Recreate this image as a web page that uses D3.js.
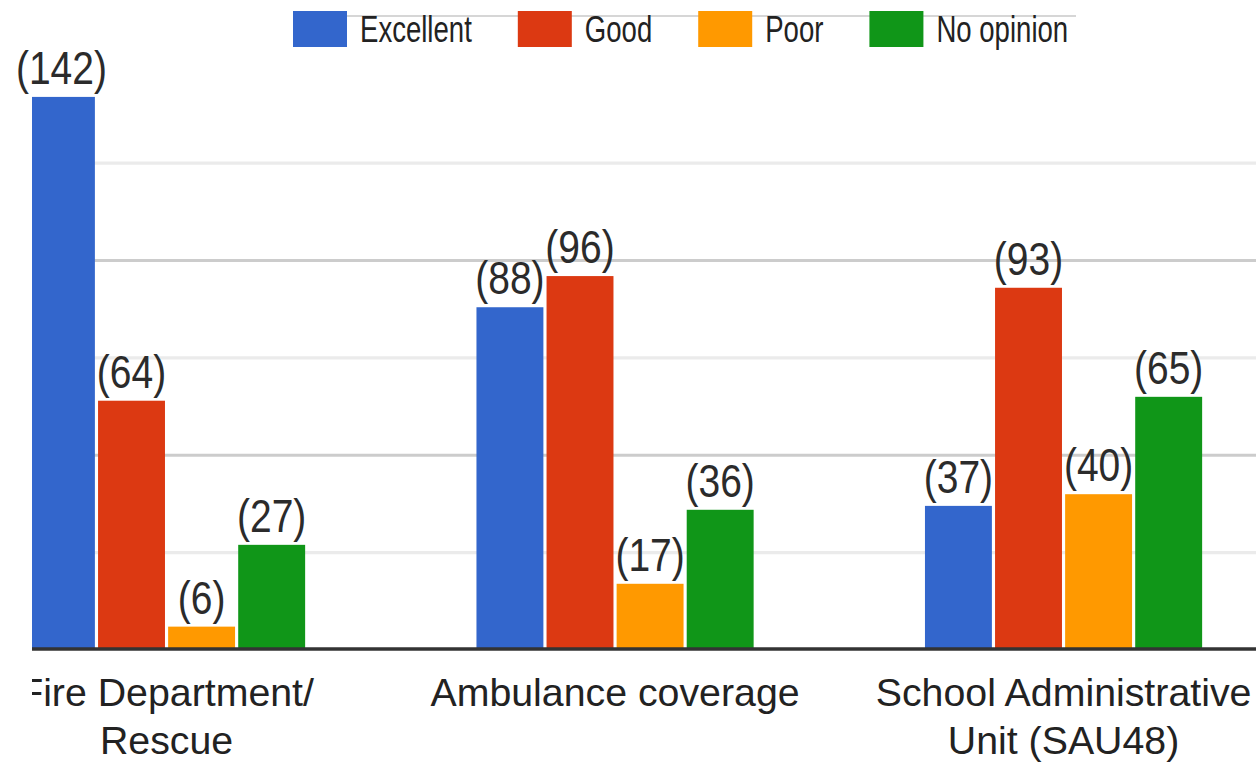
<!DOCTYPE html>
<html>
<head>
<meta charset="utf-8">
<script src="https://cdn.jsdelivr.net/npm/d3@7"></script>
<style>
  html, body { margin: 0; padding: 0; background: #fff; }
  svg { display: block; }
</style>
</head>
<body>
<svg id="chart" width="1256" height="766"></svg>
<script>
// ---- data ----
const categories = [["Fire Department/", "Rescue"], ["Ambulance coverage"], ["School Administrative", "Unit (SAU48)"]];
const series = ["Excellent", "Good", "Poor", "No opinion"];
const excellent = [142, 88, 37];
const good = [64, 96, 93];
const poor = [6, 17, 40];
const noOpinion = [27, 36, 65];
const gridTicks = [25, 50, 75, 100, 125];
const majorTicks = [50, 100];
const colors = ["#3366cc", "#dc3912", "#ff9900", "#109618"];

const values = [excellent, good, poor, noOpinion];
const catKeys = categories.map((c, i) => "c" + i);

const svg = d3.select("#chart");
const W = 1256, H = 766;
const plotLeft = 32, plotRight = 1256;

const x0 = d3.scaleBand().domain(catKeys).range([-57.7, 1287.8]).paddingInner(0.382).paddingOuter(0.191);
const x1 = d3.scaleBand().domain(series).range([0, x0.bandwidth()]).paddingInner(0.045);
const y = d3.scaleLinear().domain([0, 150]).range([650, 65.75]);

const defs = svg.append("defs");
defs.append("clipPath").attr("id", "plotclip")
  .append("rect").attr("x", plotLeft).attr("y", 0).attr("width", plotRight - plotLeft).attr("height", H);

// gridlines
const grid = svg.append("g").attr("clip-path", "url(#plotclip)");
grid.selectAll("line.grid").data(gridTicks).join("line")
  .attr("x1", plotLeft).attr("x2", plotRight)
  .attr("y1", d => y(d)).attr("y2", d => y(d))
  .attr("stroke", d => majorTicks.includes(d) ? "#cccccc" : "#ebebeb")
  .attr("stroke-width", 3.2);

// legend gray line behind legend
svg.append("line").attr("x1", 347).attr("x2", 1076).attr("y1", 16).attr("y2", 16)
  .attr("stroke", "#d6d6d6").attr("stroke-width", 2);

// bars
const barLayer = svg.append("g").attr("clip-path", "url(#plotclip)");
const labelLayer = svg.append("g");

catKeys.forEach((ck, ci) => {
  const gx = x0(ck);
  const rows = series.map((s, si) => ({ s, si, v: values[si][ci] }));
  barLayer.append("g").attr("transform", `translate(${gx},0)`)
    .selectAll("rect").data(rows).join("rect")
    .attr("x", d => x1(d.s)).attr("width", x1.bandwidth())
    .attr("y", d => y(d.v)).attr("height", d => y(0) - y(d.v))
    .attr("fill", d => colors[d.si]);
  labelLayer.append("g").attr("transform", `translate(${gx},0)`)
    .selectAll("g.lbl").data(rows).join("g")
    .attr("transform", d => `translate(${x1(d.s) + x1.bandwidth() / 2},${y(d.v) - 13}) scale(1,1.18)`)
    .append("text")
    .attr("text-anchor", "middle")
    .attr("font-family", "'Liberation Sans', Arial, sans-serif")
    .attr("font-size", 39)
    .attr("fill", "#2b2b2b")
    .text(d => `(${d.v})`);
});

// baseline
svg.append("line").attr("x1", plotLeft).attr("x2", plotRight)
  .attr("y1", 649).attr("y2", 649).attr("stroke", "#333333").attr("stroke-width", 3.5);

// x axis labels
const xl = svg.append("g").attr("clip-path", "url(#plotclip)");
categories.forEach((lines, ci) => {
  const cx = x0(catKeys[ci]) + x0.bandwidth() / 2;
  lines.forEach((t, li) => {
    xl.append("text")
      .attr("x", cx).attr("y", 706 + li * 48)
      .attr("text-anchor", "middle")
      .attr("font-family", "'Liberation Sans', Arial, sans-serif")
      .attr("font-size", 39.3)
      .attr("fill", "#222222")
      .text(t);
  });
});

// legend
const leg = svg.append("g");
let lx = 293;
const sx = 0.745;
series.forEach((s, si) => {
  leg.append("rect").attr("x", lx).attr("y", 11).attr("width", 54).attr("height", 36)
    .attr("fill", colors[si]);
  const tg = leg.append("g").attr("transform", `translate(${lx + 67},42) scale(${sx},1)`);
  const t = tg.append("text").attr("x", 0).attr("y", 0)
    .attr("font-family", "'Liberation Sans', Arial, sans-serif")
    .attr("font-size", 37)
    .attr("fill", "#222222")
    .text(s);
  const w = t.node().getComputedTextLength() * sx;
  lx = lx + 67 + w + 46;
});
</script>
</body>
</html>
